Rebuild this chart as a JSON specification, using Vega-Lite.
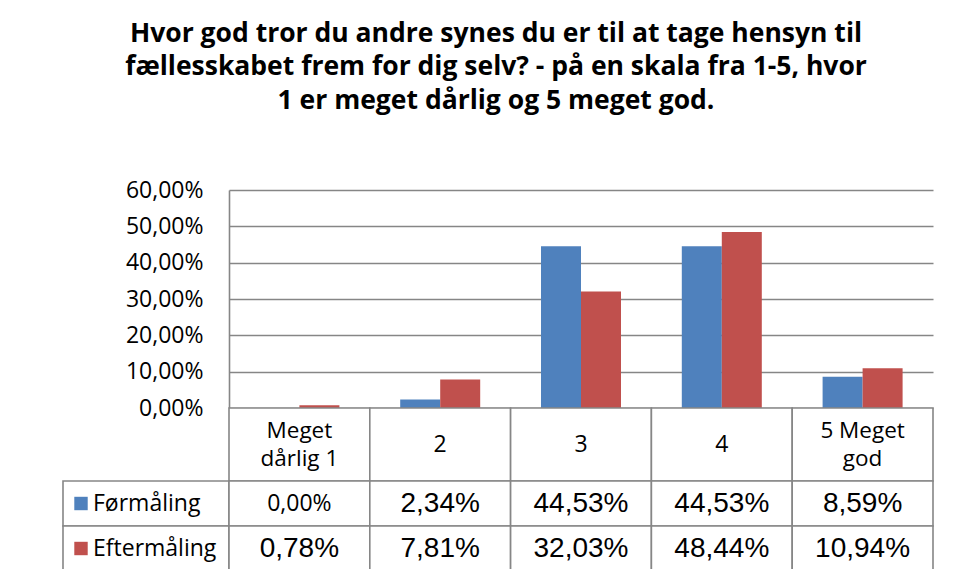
{
  "$schema": "https://vega.github.io/schema/vega-lite/v6.json",
  "background": "white",
  "padding": {"left": 62, "top": 20, "right": 10, "bottom": 0},
  "config": {
    "locale": {"number": {"decimal": ",", "thousands": ".", "grouping": [3], "currency": ["", " kr."]}},
    "view": {"stroke": null}
  },
  "title": {
    "text": ["Hvor god tror du andre synes du er til at tage hensyn til", "fællesskabet frem for dig selv? - på en skala fra 1-5, hvor", "1 er meget dårlig og 5 meget god."],
    "font": "Open Sans", "fontSize": 26.5, "fontWeight": "bold", "lineHeight": 33.5, "color": "black", "anchor": "middle", "offset": 65, "dx": -2
  },
  "datasets": {
    "vals": [
      {"kategori": "Meget dårlig 1", "serie": "Førmåling", "andel": 0.0},
      {"kategori": "2", "serie": "Førmåling", "andel": 0.0234},
      {"kategori": "3", "serie": "Førmåling", "andel": 0.4453},
      {"kategori": "4", "serie": "Førmåling", "andel": 0.4453},
      {"kategori": "5 Meget god", "serie": "Førmåling", "andel": 0.0859},
      {"kategori": "Meget dårlig 1", "serie": "Eftermåling", "andel": 0.0078},
      {"kategori": "2", "serie": "Eftermåling", "andel": 0.0781},
      {"kategori": "3", "serie": "Eftermåling", "andel": 0.3203},
      {"kategori": "4", "serie": "Eftermåling", "andel": 0.4844},
      {"kategori": "5 Meget god", "serie": "Eftermåling", "andel": 0.1094}
    ],
    "kategorier": [
      {"kategori": "Meget dårlig 1", "etiket": "Meget\ndårlig 1"},
      {"kategori": "2", "etiket": "2"},
      {"kategori": "3", "etiket": "3"},
      {"kategori": "4", "etiket": "4"},
      {"kategori": "5 Meget god", "etiket": "5 Meget\ngod"}
    ],
    "serier": [
      {"serie": "Førmåling"},
      {"serie": "Eftermåling"}
    ]
  },
  "columns": 2,
  "spacing": 0,
  "bounds": "flush",
  "concat": [
    {
      "width": 166, "height": 218,
      "data": {"values": []},
      "mark": {"type": "text"},
      "encoding": {}
    },
    {
      "width": 704, "height": 218,
      "data": {"name": "vals"},
      "mark": {"type": "bar"},
      "encoding": {
        "x": {"field": "kategori", "type": "nominal", "sort": ["Meget dårlig 1", "2", "3", "4", "5 Meget god"], "scale": {"paddingInner": 0, "paddingOuter": 0}, "axis": null},
        "xOffset": {"field": "serie", "type": "nominal", "sort": ["Førmåling", "Eftermåling"], "scale": {"paddingInner": 0, "paddingOuter": 0.76}},
        "y": {"field": "andel", "type": "quantitative", "scale": {"domain": [0, 0.6], "nice": false},
          "axis": {"title": null, "values": [0, 0.1, 0.2, 0.3, 0.4, 0.5, 0.6], "format": ".2%", "grid": true, "gridColor": "#868686", "gridWidth": 1.6, "domainColor": "#868686", "domainWidth": 1.6, "ticks": false, "tickSize": 0, "labelFont": "Open Sans", "labelFontSize": 23, "labelColor": "black", "labelPadding": 26}},
        "color": {"field": "serie", "type": "nominal", "scale": {"domain": ["Førmåling", "Eftermåling"], "range": ["#4F81BD", "#C0504D"]}, "legend": null}
      }
    },
    {
      "width": 166, "height": 73,
      "data": {"values": []},
      "mark": {"type": "text"},
      "encoding": {}
    },
    {
      "width": 704, "height": 73,
      "data": {"name": "kategorier"},
      "encoding": {
        "x": {"field": "kategori", "type": "nominal", "sort": ["Meget dårlig 1", "2", "3", "4", "5 Meget god"], "scale": {"paddingInner": 0, "paddingOuter": 0}, "axis": null}
      },
      "layer": [
        {"mark": {"type": "rect", "fill": "white", "stroke": "#868686", "strokeWidth": 1.6}},
        {"transform": [{"filter": "indexof(datum.etiket, '\\n') < 0"}],
          "mark": {"type": "text", "font": "Open Sans", "fontSize": 23, "baseline": "middle", "color": "black"},
          "encoding": {"text": {"field": "etiket"}}},
        {"transform": [{"filter": "indexof(datum.etiket, '\\n') >= 0"}],
          "mark": {"type": "text", "font": "Open Sans", "fontSize": 22.5, "lineBreak": "\n", "lineHeight": 28.5, "baseline": "middle", "dy": -14, "color": "black"},
          "encoding": {"text": {"field": "etiket"}}}
      ]
    },
    {
      "width": 166, "height": 90,
      "data": {"name": "serier"},
      "encoding": {
        "y": {"field": "serie", "type": "nominal", "sort": ["Førmåling", "Eftermåling"], "scale": {"paddingInner": 0, "paddingOuter": 0}, "axis": null}
      },
      "layer": [
        {"mark": {"type": "rect", "fill": "white", "stroke": "#868686", "strokeWidth": 1.6}},
        {"mark": {"type": "point", "shape": "square", "filled": true, "size": 180, "opacity": 1},
          "encoding": {"x": {"value": 18}, "color": {"field": "serie", "type": "nominal", "scale": {"domain": ["Førmåling", "Eftermåling"], "range": ["#4F81BD", "#C0504D"]}, "legend": null}}},
        {"mark": {"type": "text", "align": "left", "font": "Open Sans", "fontSize": 23, "color": "black"},
          "encoding": {"x": {"value": 30}, "text": {"field": "serie"}}}
      ]
    },
    {
      "width": 704, "height": 90,
      "data": {"name": "vals"},
      "encoding": {
        "x": {"field": "kategori", "type": "nominal", "sort": ["Meget dårlig 1", "2", "3", "4", "5 Meget god"], "scale": {"paddingInner": 0, "paddingOuter": 0}, "axis": null},
        "y": {"field": "serie", "type": "nominal", "sort": ["Førmåling", "Eftermåling"], "scale": {"paddingInner": 0, "paddingOuter": 0}, "axis": null}
      },
      "layer": [
        {"mark": {"type": "rect", "fill": "white", "stroke": "#868686", "strokeWidth": 1.6}},
        {"transform": [{"filter": "!(datum.serie === 'Førmåling' && datum.kategori === 'Meget dårlig 1')"}],
          "mark": {"type": "text", "font": "Liberation Sans", "fontSize": 28, "color": "black"},
          "encoding": {"text": {"field": "andel", "type": "quantitative", "format": ".2%"}}},
        {"transform": [{"filter": "datum.serie === 'Førmåling' && datum.kategori === 'Meget dårlig 1'"}],
          "mark": {"type": "text", "font": "Open Sans", "fontSize": 23, "color": "black"},
          "encoding": {"text": {"field": "andel", "type": "quantitative", "format": ".2%"}}}
      ]
    }
  ]
}
